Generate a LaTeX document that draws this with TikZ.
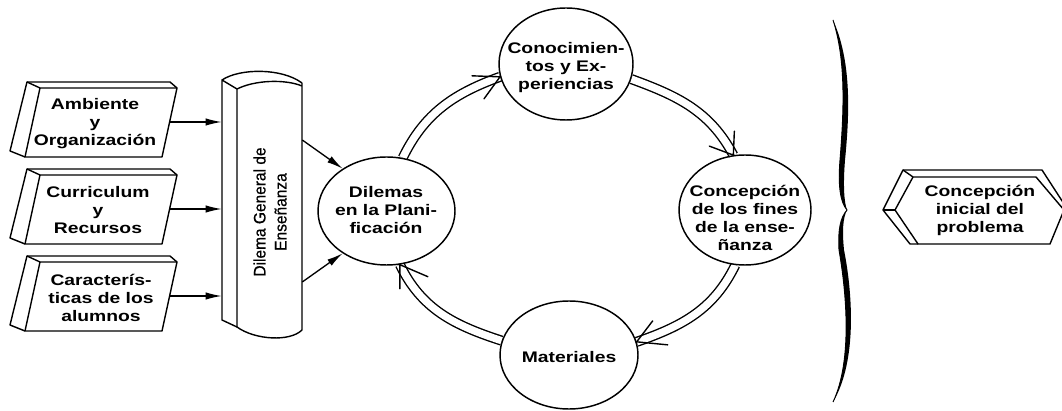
\documentclass[tikz,border=0pt]{standalone}
\usepackage{fontspec}
\newfontfamily\labfont{Liberation Sans}[FakeStretch=1.26]
\newfontfamily\colfont{Liberation Sans}[FakeStretch=0.93,FakeBold=0.6]
\usetikzlibrary{shapes.geometric,arrows.meta,backgrounds}
\tikzset{
  circ/.style={ellipse, draw, line width=1.1pt, inner sep=0pt},
  lab/.style={font=\labfont\bfseries\fontsize{11.5}{13.5}\selectfont, align=center, inner sep=0pt},
  colt/.style={font=\colfont\fontsize{12.5}{15.75}\selectfont, align=center, inner sep=0pt},
  cyc/.style={double, double distance=5.5pt, line width=1.05pt},
  barb/.style={line width=1.05pt, line cap=round},
  feed/.style={line width=1pt, -{Latex[length=12pt,width=5.5pt]}},
  shp/.style={line width=1.05pt, line join=round},
  hid/.style={inner sep=0pt, minimum width=102.75pt, minimum height=51.75pt}
}
\newcommand\mkbox[5]{%
  \node[hid] (#1) at (101,#2) {};
  \begin{scope}[shift={(0,#2)}]
    \draw[shp] (40,34) -- (177,34) -- (162,-35) -- (25,-35) -- cycle;
    \draw[shp] (25,-35) -- (10,-29) -- (27,40) -- (170,40) -- (177,34);
    \draw[shp] (27,40) -- (40,34);
  \end{scope}
  \node[lab] (#1t) at (#3,#4) {#5};
  \draw[feed] (#1.east) -- (#1.east -| col.west);
}
\begin{document}
\begin{tikzpicture}[x=0.75pt, y=0.75pt]
\begin{pgfonlayer}{background}
  \fill[white] (0,0) rectangle (1062,410);
\end{pgfonlayer}
\useasboundingbox (0,0) rectangle (1062,410);

% column "Dilema General de Ensenanza"
\node[inner sep=0pt, minimum width=60pt, minimum height=185.25pt] (col) at (262,203.5) {};
\draw[shp] (302,327) -- (302,80) .. controls (290,68) and (255,70) .. (237,83) -- (237,321) .. controls (255,330) and (285,331) .. (302,324);
\draw[shp] (237,321) -- (222,330) -- (222,90) -- (237,83);
\draw[shp] (222,330) .. controls (240,342) and (282,342) .. (302,327);
\node[colt, rotate=90] (colt) at (270,198) {Dilema General de\\Enseñanza};

% left boxes
\mkbox{b1}{288}{95}{286}{Ambiente\\y\\Organización}
\mkbox{b2}{201}{98}{200}{Curriculum\\y\\Recursos}
\mkbox{b3}{114}{101}{112}{Caracterís-\\ticas de los\\alumnos}

% cycle ellipses
\node[circ, minimum width=100.5pt, minimum height=84pt] (con) at (566,346) {};
\node[circ, minimum width=102.75pt, minimum height=81pt] (dil) at (386.5,199) {};
\node[circ, minimum width=99pt, minimum height=82.5pt] (fin) at (745,200) {};
\node[circ, minimum width=103.5pt, minimum height=81pt] (mat) at (569,55) {};
\node[lab] (cont) at (566,342) {Conocimien-\\tos y Ex-\\periencias};
\node[lab] (dilt) at (386,200) {Dilemas\\en la Plani-\\ficación};
\node[lab] (fint) at (745,192) {Concepción\\de los fines\\de la ense-\\ñanza};
\node[lab] (matt) at (569,53) {Materiales};

% arrows column -> Dilemas
\draw[feed] ([shift={(0,66.5)}]col.east) -- (dil.136);
\draw[feed] ([shift={(0,-75.5)}]col.east) -- (dil.224);

% double cycle arcs
\begin{pgfonlayer}{background}
  \draw[cyc] (dil.73) to[out=64,in=200] (con.191);
  \draw[cyc] (con.347) to[out=-20,in=118] (fin.102);
  \draw[cyc] (fin.260) to[out=244,in=19] (mat.11);
  \draw[cyc] (mat.168) to[out=162,in=296] (dil.284);
\end{pgfonlayer}
\draw[barb] ([shift={(-28,1)}]con.191) -- (con.191) -- ([shift={(-16,-22)}]con.191);
\draw[barb] ([shift={(1,24)}]fin.102) -- (fin.102) -- ([shift={(-24,9)}]fin.102);
\draw[barb] ([shift={(31,-3)}]mat.11) -- (mat.11) -- ([shift={(16,21)}]mat.11);
\draw[barb] ([shift={(0,-24)}]dil.284) -- (dil.284) -- ([shift={(28,-12)}]dil.284);

% brace
\fill[black] (833,390) .. controls (846,350) and (844,300) .. (840,250) .. controls (838,225) and (840,208) .. (847,200)
  .. controls (844,208) and (843,225) .. (845,250) .. controls (850,300) and (851,350) .. (833,390) -- cycle;
\fill[black] (847,200) .. controls (840,192) and (838,180) .. (839,160) .. controls (846,120) and (853,50) .. (833,8)
  .. controls (858,50) and (852,120) .. (844,160) .. controls (842,180) and (843,192) .. (847,200) -- cycle;
\draw[line width=0.7pt] (833,390) .. controls (846,350) and (844,300) .. (840,250) .. controls (838,225) and (840,208) .. (847,200)
  .. controls (840,192) and (838,180) .. (839,160) .. controls (846,120) and (853,50) .. (833,8);

% right box
\draw[shp] (913,233) -- (1036,233) -- (1064,200) -- (1050,166) -- (918,166) -- (895,200) -- cycle;
\draw[shp] (918,166) -- (910,166) -- (883,200) -- (903,240) -- (1042,240) -- (1066,203);
\draw[shp] (883,200) -- (895,200);
\draw[shp] (903,240) -- (913,233);
\node[lab] (rbt) at (980,200) {Concepción\\inicial del\\problema};
\end{tikzpicture}
\end{document}
